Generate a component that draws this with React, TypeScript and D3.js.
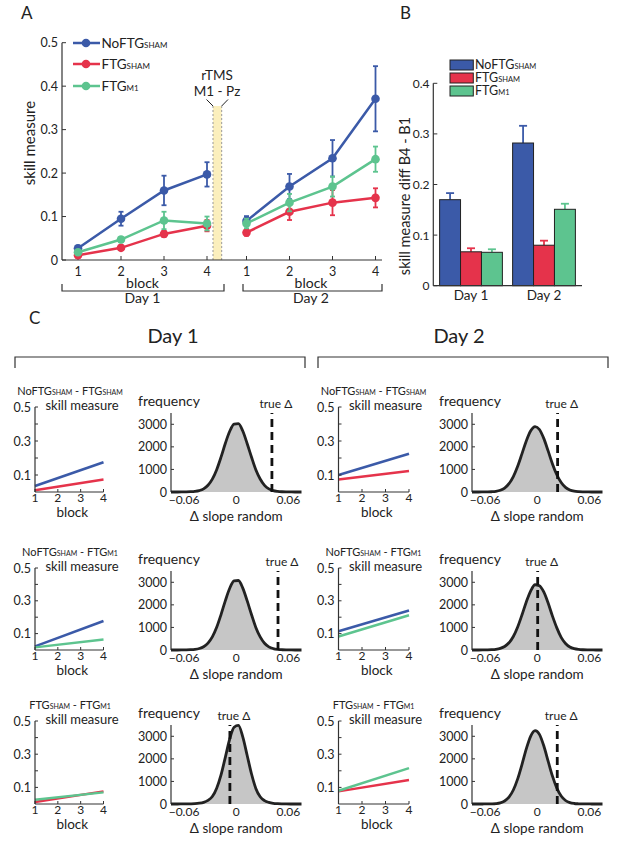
import React from 'react'
import * as d3 from 'd3'

const FONT = "Lato, 'Open Sans', 'DejaVu Sans', sans-serif"
const INK = '#333'

// groups
const groupNames = ['NoFTG', 'FTG', 'FTG']
const groupSubs = ['SHAM', 'SHAM', 'M1']
const groupColors = ['#3b5aa8', '#e5334b', '#5dc48f']

// A: skill measure per block (mean, sem)
const blocks = [1, 2, 3, 4]
const noFtgShamDay1 = [0.027, 0.095, 0.16, 0.197]
const noFtgShamDay1Sem = [0.006, 0.016, 0.034, 0.028]
const ftgShamDay1 = [0.011, 0.028, 0.06, 0.079]
const ftgShamDay1Sem = [0.004, 0.005, 0.007, 0.013]
const ftgM1Day1 = [0.018, 0.047, 0.091, 0.084]
const ftgM1Day1Sem = [0.005, 0.006, 0.02, 0.016]
const noFtgShamDay2 = [0.09, 0.169, 0.234, 0.371]
const noFtgShamDay2Sem = [0.011, 0.029, 0.042, 0.075]
const ftgShamDay2 = [0.063, 0.111, 0.132, 0.143]
const ftgShamDay2Sem = [0.007, 0.019, 0.029, 0.022]
const ftgM1Day2 = [0.084, 0.132, 0.169, 0.232]
const ftgM1Day2Sem = [0.011, 0.02, 0.023, 0.029]

// B: diff B4 - B1
const diffDays = ['Day 1', 'Day 2']
const diffNoFtgSham = [0.17, 0.282]
const diffNoFtgShamSem = [0.013, 0.034]
const diffFtgSham = [0.067, 0.08]
const diffFtgShamSem = [0.007, 0.009]
const diffFtgM1 = [0.066, 0.151]
const diffFtgM1Sem = [0.006, 0.011]

// C: fitted lines (value at block 1 and block 4)
const fitBlocks = [1, 4]
const pairs = [[0, 1], [0, 2], [1, 2]]
const fitRow1Day1 = [[0.035, 0.175], [0.01, 0.073]]
const fitRow1Day2 = [[0.1, 0.225], [0.073, 0.124]]
const fitRow2Day1 = [[0.022, 0.177], [0.016, 0.064]]
const fitRow2Day2 = [[0.114, 0.241], [0.082, 0.212]]
const fitRow3Day1 = [[0.012, 0.076], [0.026, 0.07]]
const fitRow3Day2 = [[0.076, 0.144], [0.08, 0.216]]

// C: permutation histograms, bin width 0.005 from -0.075 to 0.075
const binCenters = d3.range(30).map((i) => -0.0725 + i * 0.005)
const histRow1Day1 = [0, 0, 2, 6, 14, 30, 65, 140, 300, 570, 990, 1545, 2160, 2690, 3010, 3030, 2700, 2150, 1550, 985, 575, 295, 140, 62, 28, 12, 5, 2, 0, 0]
const histRow1Day2 = [0, 0, 2, 5, 12, 30, 76, 176, 367, 684, 1140, 1700, 2270, 2710, 2900, 2770, 2375, 1820, 1245, 765, 420, 206, 91, 36, 14, 5, 2, 1, 0, 0]
const histRow2Day1 = [0, 0, 2, 6, 14, 30, 66, 143, 305, 580, 1005, 1570, 2190, 2735, 3060, 3080, 2740, 2185, 1575, 1000, 580, 300, 140, 64, 28, 12, 5, 2, 0, 0]
const histRow2Day2 = [0, 0, 2, 6, 14, 32, 72, 155, 320, 600, 1020, 1560, 2140, 2620, 2890, 2850, 2570, 2080, 1500, 980, 560, 290, 135, 60, 26, 11, 4, 2, 0, 0]
const histRow3Day1 = [0, 0, 2, 4, 8, 16, 35, 75, 160, 330, 700, 1290, 2080, 2880, 3400, 3480, 2970, 2160, 1340, 690, 320, 150, 72, 32, 15, 7, 3, 1, 0, 0]
const histRow3Day2 = [0, 0, 1, 3, 7, 18, 50, 133, 304, 620, 1112, 1760, 2453, 3010, 3250, 3085, 2580, 1900, 1232, 703, 353, 155, 61, 22, 9, 4, 2, 1, 0, 0]
const trueDeltaDay1 = [0.041, 0.048, -0.0073]
const trueDeltaDay2 = [0.0234, 0.0005, 0.023]

const fmt = (v: number) => (v === 0 ? '0' : d3.format('.1f')(v))

function GroupLabel({i, size, subSize}: any) {
  return (
    <>
      <tspan fontSize={size}>{groupNames[i]}</tspan>
      <tspan fontSize={subSize}>{groupSubs[i]}</tspan>
    </>
  )
}

/* Panel A */
function PanelA() {
  const y = d3.scaleLinear().domain([0, 0.5]).range([260, 42.7])
  const xs = [
    d3.scaleLinear().domain([1, 4]).range([78, 207]),
    d3.scaleLinear().domain([1, 4]).range([246.5, 375.5]),
  ]
  const means = [
    [noFtgShamDay1, ftgShamDay1, ftgM1Day1],
    [noFtgShamDay2, ftgShamDay2, ftgM1Day2],
  ]
  const sems = [
    [noFtgShamDay1Sem, ftgShamDay1Sem, ftgM1Day1Sem],
    [noFtgShamDay2Sem, ftgShamDay2Sem, ftgM1Day2Sem],
  ]
  const legendY = [43, 64, 86]
  return (
    <g>
      <text x={21} y={19} fontSize={17}>A</text>
      {/* rTMS band */}
      <rect x={213} y={106} width={8.7} height={154} fill="#fbefbd" />
      <line x1={213} x2={213} y1={106} y2={260} stroke="#999" strokeDasharray="2 2" />
      <line x1={221.7} x2={221.7} y1={106} y2={260} stroke="#999" strokeDasharray="2 2" />
      <line x1={206.5} y1={99.5} x2={213} y2={106} stroke="#222" strokeWidth={1} />
      <line x1={228} y1={99.5} x2={221.7} y2={106} stroke="#222" strokeWidth={1} />
      <text x={217} y={80} fontSize={13.5} textAnchor="middle">rTMS</text>
      <text x={217} y={96} fontSize={13.5} textAnchor="middle">M1 - Pz</text>
      {/* axes */}
      <line x1={62} x2={62} y1={260} y2={42.7} stroke={INK} strokeWidth={1.2} />
      <line x1={62} x2={382} y1={260} y2={260} stroke={INK} strokeWidth={1.2} />
      {y.ticks(5).map((t) => (
        <g key={t}>
          <line x1={62} x2={66} y1={y(t)} y2={y(t)} stroke={INK} />
          <text x={58} y={y(t) + 4.5} fontSize={12.5} textAnchor="end">{fmt(t)}</text>
        </g>
      ))}
      {xs.map((x, d) =>
        blocks.map((b) => (
          <g key={d + '-' + b}>
            <line x1={x(b)} x2={x(b)} y1={260} y2={256} stroke={INK} />
            <text x={x(b)} y={275.5} fontSize={12.5} textAnchor="middle">{b}</text>
          </g>
        ))
      )}
      <text transform="translate(35,143) rotate(-90)" fontSize={15} textAnchor="middle">skill measure</text>
      {/* day brackets */}
      {[[62, 224, 'Day 1'], [243, 382, 'Day 2']].map(([a, b, lab]: any, d) => (
        <g key={lab}>
          <path d={`M${a},284V291H${b}V284`} fill="none" stroke={INK} strokeWidth={1.2} />
          <text x={(xs[d](1) + xs[d](4)) / 2} y={287.5} fontSize={14} textAnchor="middle">block</text>
          <text x={(xs[d](1) + xs[d](4)) / 2} y={303} fontSize={14} textAnchor="middle">{lab}</text>
        </g>
      ))}
      {/* series */}
      {xs.map((x, d) =>
        [0, 1, 2].map((gi) => {
          const line = d3.line<number>().x((_, i) => x(blocks[i])).y((v) => y(v))
          return (
            <g key={d + 's' + gi}>
              <path d={line(means[d][gi]) || ''} fill="none" stroke={groupColors[gi]} strokeWidth={2.5} />
              {means[d][gi].map((v, i) => {
                const cx = x(blocks[i])
                const s = sems[d][gi][i]
                return (
                  <g key={i} stroke={groupColors[gi]} strokeWidth={1.8}>
                    <line x1={cx} x2={cx} y1={y(v - s)} y2={y(v + s)} />
                    <line x1={cx - 2.5} x2={cx + 2.5} y1={y(v - s)} y2={y(v - s)} />
                    <line x1={cx - 2.5} x2={cx + 2.5} y1={y(v + s)} y2={y(v + s)} />
                    <circle cx={cx} cy={y(v)} r={4.3} fill={groupColors[gi]} stroke="none" />
                  </g>
                )
              })}
            </g>
          )
        })
      )}
      {/* legend */}
      {legendY.map((ly, gi) => (
        <g key={gi}>
          <line x1={73} x2={100} y1={ly} y2={ly} stroke={groupColors[gi]} strokeWidth={2.5} />
          <circle cx={86} cy={ly} r={4.3} fill={groupColors[gi]} />
          <text x={101.5} y={ly + 4.5}>
            <GroupLabel i={gi} size={13.5} subSize={8} />
          </text>
        </g>
      ))}
    </g>
  )
}

/* Panel B */
function PanelB() {
  const y = d3.scaleLinear().domain([0, 0.4]).range([285.7, 83.3])
  const x = d3.scaleBand<string>().domain(diffDays).range([434.5, 580.5]).paddingInner(0.14).paddingOuter(0.07)
  const inner = d3.scaleBand<number>().domain([0, 1, 2]).range([0, x.bandwidth()])
  const vals = [diffNoFtgSham, diffFtgSham, diffFtgM1]
  const sems = [diffNoFtgShamSem, diffFtgShamSem, diffFtgM1Sem]
  const legendY = [60, 73, 86]
  return (
    <g>
      <text x={400} y={19} fontSize={17}>B</text>
      {diffDays.map((day, d) =>
        [0, 1, 2].map((gi) => {
          const bx = (x(day) || 0) + (inner(gi) || 0)
          const w = inner.bandwidth()
          const v = vals[gi][d]
          const s = sems[gi][d]
          return (
            <g key={day + gi}>
              <line x1={bx + w / 2} x2={bx + w / 2} y1={y(v)} y2={y(v + s)} stroke={groupColors[gi]} strokeWidth={1.8} />
              <line x1={bx + w / 2 - 4} x2={bx + w / 2 + 4} y1={y(v + s)} y2={y(v + s)} stroke={groupColors[gi]} strokeWidth={1.8} />
              <rect x={bx} y={y(v)} width={w} height={y(0) - y(v)} fill={groupColors[gi]} stroke="#222" strokeWidth={1} />
            </g>
          )
        })
      )}
      <line x1={433.3} x2={433.3} y1={285.7} y2={83.3} stroke={INK} strokeWidth={1.2} />
      <line x1={433.3} x2={582} y1={285.7} y2={285.7} stroke={INK} strokeWidth={1.2} />
      {y.ticks(4).map((t) => (
        <g key={t}>
          <line x1={433.3} x2={437.3} y1={y(t)} y2={y(t)} stroke={INK} />
          <text x={429.5} y={y(t) + 4.5} fontSize={12} textAnchor="end">{fmt(t)}</text>
        </g>
      ))}
      {diffDays.map((day) => (
        <text key={day} x={(x(day) || 0) + x.bandwidth() / 2} y={300} fontSize={13.5} textAnchor="middle">{day}</text>
      ))}
      <text transform="translate(410,196) rotate(-90)" fontSize={14.5} textAnchor="middle">skill measure diff B4 - B1</text>
      {legendY.map((ly, gi) => (
        <g key={gi}>
          <rect x={450} y={ly} width={23.3} height={10} fill={groupColors[gi]} stroke="#222" strokeWidth={1} />
          <text x={475} y={ly + 9.3}>
            <GroupLabel i={gi} size={12.5} subSize={7.5} />
          </text>
        </g>
      ))}
    </g>
  )
}

/* Panel C pieces */
function SmallFit({x0, x1, top, bottom, pair, fits}: any) {
  const x = d3.scaleLinear().domain([1, 4]).range([x0, x1])
  const y = d3.scaleLinear().domain([0, 0.5]).range([bottom, top])
  const line = d3.line<number>().x((_, i) => x(fitBlocks[i])).y((v) => y(v))
  return (
    <g>
      <text x={x0 + 35} y={top - 12} textAnchor="middle">
        <GroupLabel i={pair[0]} size={11} subSize={7} />
        <tspan fontSize={11}>{' - '}</tspan>
        <GroupLabel i={pair[1]} size={11} subSize={7} />
      </text>
      <text x={x0 + 47} y={top + 3} textAnchor="middle" fontSize={13}>skill measure</text>
      {fits.map((f: number[], k: number) => (
        <path key={k} d={line(f) || ''} fill="none" stroke={groupColors[pair[k]]} strokeWidth={2.5} />
      ))}
      <line x1={x0} x2={x0} y1={bottom} y2={top} stroke={INK} strokeWidth={1.2} />
      <line x1={x0} x2={x1} y1={bottom} y2={bottom} stroke={INK} strokeWidth={1.2} />
      {[0.1, 0.2, 0.3, 0.4, 0.5].map((t, i) => (
        <g key={t}>
          <line x1={x0} x2={x0 + 3} y1={y(t)} y2={y(t)} stroke={INK} />
          {i % 2 === 0 && (
            <text x={x0 - 4} y={y(t) + 4.5} fontSize={12.5} textAnchor="end">{fmt(t)}</text>
          )}
        </g>
      ))}
      {blocks.map((b) => (
        <g key={b}>
          <line x1={x(b)} x2={x(b)} y1={bottom} y2={bottom - 3} stroke={INK} />
          <text x={x(b)} y={bottom + 9.5} fontSize={12} textAnchor="middle">{b}</text>
        </g>
      ))}
      <text x={(x0 + x1) / 2 + 3} y={bottom + 24.5} fontSize={13.5} textAnchor="middle">block</text>
    </g>
  )
}

function Hist({left, bottom, counts, delta}: any) {
  const x = d3.scaleLinear().domain([-0.075, 0.075]).range([left, left + 130.5])
  const y = d3.scaleLinear().domain([0, 3500]).range([bottom, bottom - 79])
  const pts: [number, number][] = [[-0.075, 0], ...binCenters.map((c, i) => [c, counts[i]] as [number, number]), [0.075, 0]]
  const area = d3.area<[number, number]>().x((d) => x(d[0])).y0(bottom).y1((d) => y(d[1])).curve(d3.curveMonotoneX)
  const line = d3.line<[number, number]>().x((d) => x(d[0])).y((d) => y(d[1])).curve(d3.curveMonotoneX)
  const top = y(3500)
  return (
    <g>
      <text x={left - 33} y={top - 7} fontSize={14}>frequency</text>
      <path d={area(pts) || ''} fill="#c6c6c6" />
      <line x1={left} x2={left} y1={bottom} y2={top} stroke={INK} strokeWidth={1.2} />
      {[0, 1000, 2000, 3000].map((t) => (
        <g key={t}>
          <line x1={left} x2={left + 3} y1={y(t)} y2={y(t)} stroke={INK} />
          <text x={left - 4} y={y(t) + 4.5} fontSize={12.5} textAnchor="end">{t}</text>
        </g>
      ))}
      {[-0.06, 0, 0.06].map((t) => (
        <text key={t} x={x(t)} y={bottom + 12} fontSize={12} textAnchor="middle">{t === 0 ? '0' : d3.format('.2f')(t)}</text>
      ))}
      <path d={line(pts) || ''} fill="none" stroke="#222" strokeWidth={2.8} strokeLinejoin="round" />
      <line x1={x(delta)} x2={x(delta)} y1={bottom} y2={top} stroke="#111" strokeWidth={2.8} strokeDasharray="8 5" />
      <text x={x(delta) + 4} y={top - 5.5} fontSize={12} textAnchor="middle">true Δ</text>
      <text x={x(0)} y={bottom + 28.5} fontSize={13.5} textAnchor="middle">Δ slope random</text>
    </g>
  )
}

function PanelC() {
  const tops = [407, 568, 721]
  const bottoms = [492, 650, 804]
  const fitsDay1 = [fitRow1Day1, fitRow2Day1, fitRow3Day1]
  const fitsDay2 = [fitRow1Day2, fitRow2Day2, fitRow3Day2]
  const histsDay1 = [histRow1Day1, histRow2Day1, histRow3Day1]
  const histsDay2 = [histRow1Day2, histRow2Day2, histRow3Day2]
  return (
    <g>
      <text x={29} y={324} fontSize={17}>C</text>
      <text x={173} y={343} fontSize={20} textAnchor="middle">Day 1</text>
      <text x={459} y={343} fontSize={20} textAnchor="middle">Day 2</text>
      <path d="M15,368V357H305V368" fill="none" stroke={INK} strokeWidth={1.2} />
      <path d="M318,368V357H608V368" fill="none" stroke={INK} strokeWidth={1.2} />
      {pairs.map((pair, r) => (
        <g key={r}>
          <SmallFit x0={35} x1={103.5} top={tops[r]} bottom={bottoms[r]} pair={pair} fits={fitsDay1[r]} />
          <Hist left={171} bottom={bottoms[r]} counts={histsDay1[r]} delta={trueDeltaDay1[r]} />
          <SmallFit x0={338.5} x1={409} top={tops[r]} bottom={bottoms[r]} pair={pair} fits={fitsDay2[r]} />
          <Hist left={472} bottom={bottoms[r]} counts={histsDay2[r]} delta={trueDeltaDay2[r]} />
        </g>
      ))}
    </g>
  )
}

export default function App() {
  return (
    <svg
      width={617}
      height={841}
      style={{position: 'absolute', left: 0, top: 0, background: '#fff'}}
      fontFamily={FONT}
      fill="#222">
      <PanelA />
      <PanelB />
      <PanelC />
    </svg>
  )
}
